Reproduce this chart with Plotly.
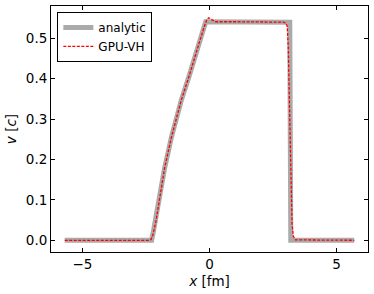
import plotly.graph_objects as go

# analytic solution (velocity profile)
x_analytic = [-5.7, -2.28, -2.2, -2.0, -1.77, -1.5, -1.11, -0.8, -0.62, -0.4, -0.15,
              3.16, 3.2, 5.7]
v_analytic = [0.0, 0.0, 0.025, 0.095, 0.178, 0.255, 0.347, 0.407, 0.446, 0.49, 0.541,
              0.540, 0.0, 0.0]

# GPU-VH numerical result
x_gpu = [-5.7, -2.4, -2.3, -2.22, -2.1, -2.0, -1.77, -1.5, -1.11, -0.8, -0.62, -0.4,
         -0.2, -0.1, -0.03, 0.1, 0.22, 1.0, 2.0, 2.9, 3.0, 3.06, 3.1, 3.15, 3.2,
         3.25, 3.3, 3.38, 5.7]
v_gpu = [0.0, 0.0, 0.002, 0.015, 0.05, 0.09, 0.178, 0.255, 0.347, 0.407, 0.446, 0.49,
         0.53, 0.547, 0.551, 0.546, 0.541, 0.541, 0.540, 0.540, 0.538, 0.53, 0.48,
         0.3, 0.12, 0.04, 0.01, 0.001, 0.0]

x_ticks = [-5, 0, 5]
v_ticks = [0.0, 0.1, 0.2, 0.3, 0.4, 0.5]

font = dict(family="DejaVu Sans", size=13.5, color="black")

fig = go.Figure()
fig.add_trace(go.Scatter(x=x_analytic, y=v_analytic, mode="lines", name="analytic",
                         line=dict(color="#aaaaaa", width=5)))
fig.add_trace(go.Scatter(x=x_gpu, y=v_gpu, mode="lines", name="GPU-VH",
                         line=dict(color="red", width=1.3, dash="3px,1.5px")))

axis_style = dict(showline=True, linecolor="black", linewidth=1, mirror="allticks",
                  ticks="inside", ticklen=4, tickwidth=1, tickcolor="black",
                  showgrid=False, zeroline=False, tickfont=font, automargin=False)

fig.update_xaxes(range=[-6.24, 6.24], tickvals=x_ticks,
                 title=dict(text="<i>x</i> [fm]", font=font, standoff=5), **axis_style)
fig.update_yaxes(range=[-0.029, 0.58], tickvals=v_ticks, tickformat=".1f",
                 title=dict(text="<i>v</i> [<i>c</i>]", font=font, standoff=6), **axis_style)

fig.update_layout(
    width=374, height=294,
    margin=dict(l=51, r=6, t=6, b=42),
    plot_bgcolor="white", paper_bgcolor="white",
    font=font,
    legend=dict(x=0.02, y=0.976, xanchor="left", yanchor="top",
                bgcolor="white", bordercolor="black", borderwidth=1,
                font=dict(family="DejaVu Sans", size=12, color="black"),
                tracegroupgap=0, itemwidth=30),
    showlegend=True,
)

# page body has a default 8px margin; remove it so the figure fills the window
fig.write_html("out.html", config={"displayModeBar": False},
               post_script="document.body.style.margin='0';document.body.style.overflow='hidden';")
